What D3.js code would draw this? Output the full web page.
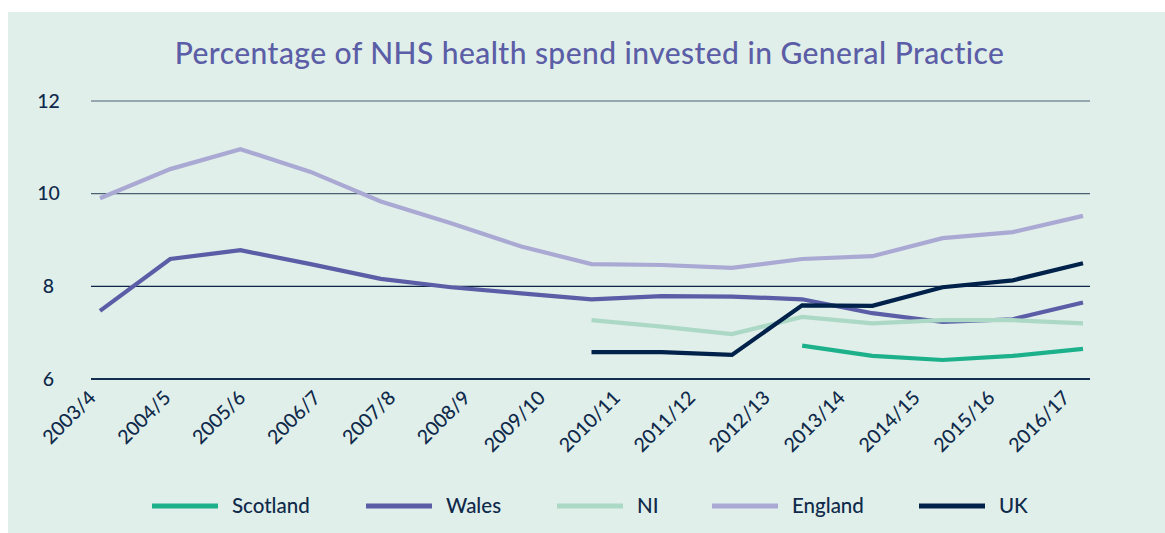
<!DOCTYPE html>
<html>
<head>
<meta charset="utf-8">
<script src="https://cdn.jsdelivr.net/npm/d3@7/dist/d3.min.js"></script>
<style>
  html, body { margin: 0; padding: 0; background: #ffffff; }
  svg { display: block; }
  text { font-family: Lato, "Open Sans", sans-serif; }
</style>
</head>
<body>
<svg id="chart" width="1165" height="533"></svg>
<script>
// ---- Data ----
const title = "Percentage of NHS health spend invested in General Practice";
const categories = ["2003/4","2004/5","2005/6","2006/7","2007/8","2008/9","2009/10",
                    "2010/11","2011/12","2012/13","2013/14","2014/15","2015/16","2016/17"];
const yTicks = [6, 8, 10, 12];
// data points (15 plotted positions)
const england  = [9.90, 10.53, 10.96, 10.47, 9.83, 9.36, 8.86, 8.48, 8.46, 8.40, 8.59, 8.65, 9.04, 9.17, 9.52];
const wales    = [7.47, 8.59, 8.78, 8.48, 8.16, 7.98, 7.85, 7.72, 7.79, 7.78, 7.72, 7.42, 7.23, 7.29, 7.65];
const ni       = [null, null, null, null, null, null, null, 7.27, 7.13, 6.97, 7.34, 7.20, 7.27, 7.27, 7.20];
const uk       = [null, null, null, null, null, null, null, 6.58, 6.58, 6.52, 7.59, 7.58, 7.98, 8.13, 8.50];
const scotland = [null, null, null, null, null, null, null, null, null, null, 6.72, 6.50, 6.41, 6.50, 6.65];

const seriesNames = ["Scotland", "Wales", "NI", "England", "UK"];
const seriesValues = [scotland, wales, ni, england, uk];
const seriesColors = ["#1db18b", "#5b5ea6", "#acd8c6", "#aaa9d4", "#00214a"];
// drawing order (back to front)
const drawOrder = ["England", "Wales", "NI", "Scotland", "UK"];

// ---- Layout ----
const svg = d3.select("#chart");
const textColor = "#0f2a4a";

svg.append("rect").attr("x", 8).attr("y", 12).attr("width", 1165 - 8).attr("height", 533 - 12)
   .attr("fill", "#e1efea");

const gridLeft = 91, gridRight = 1090;
const y = d3.scaleLinear().domain([6, 12]).range([379, 101]);
const xIdx = d3.scaleLinear().domain([0, 14]).range([100, 1083]);
const xCat = d3.scalePoint().domain(categories).range([97, 1071]);

// title
const titleEl = svg.append("text").attr("x", 589.5).attr("y", 64).attr("text-anchor", "middle")
   .attr("font-size", 30).attr("font-weight", 500).attr("fill", "#5b5ea6").text(title);
const tw = titleEl.node().getComputedTextLength();
titleEl.attr("letter-spacing", Math.max(0, (830 - tw) / title.length).toFixed(2) + "px");

// gridlines
const grid = svg.append("g");
grid.selectAll("line").data(yTicks).join("line")
  .attr("x1", gridLeft).attr("x2", gridRight)
  .attr("y1", d => y(d)).attr("y2", d => y(d))
  .attr("stroke", d => d === 6 ? "#14304f" : (d === 8 ? "#0d2546" : "#4b6275"))
  .attr("stroke-width", d => d === 6 ? 2.2 : 1.2);

// y labels
svg.append("g").selectAll("text").data(yTicks).join("text")
  .attr("x", 48.5).attr("y", d => y(d)).attr("dy", "0.35em")
  .attr("text-anchor", "middle").attr("font-size", 19.5).attr("font-weight", 500).attr("fill", textColor)
  .text(d => d);

// x labels
svg.append("g").selectAll("text").data(categories).join("text")
  .attr("transform", d => `translate(${xCat(d)},${399}) rotate(-45)`)
  .attr("text-anchor", "end").attr("font-size", 19.5).attr("font-weight", 500).attr("fill", textColor)
  .text(d => d);

// lines
const line = d3.line()
  .defined(d => d != null)
  .x((d, i) => xIdx(i))
  .y(d => y(d));

drawOrder.forEach(name => {
  const k = seriesNames.indexOf(name);
  svg.append("path")
    .datum(seriesValues[k])
    .attr("d", line)
    .attr("fill", "none")
    .attr("stroke", seriesColors[k])
    .attr("stroke-width", 4.2)
    .attr("stroke-linejoin", "miter");
});

// legend
const legend = svg.append("g");
const legendStarts = [152, 366, 557, 712, 919];
const ly = 506;
seriesNames.forEach((name, k) => {
  const lx = legendStarts[k];
  legend.append("line").attr("x1", lx).attr("x2", lx + 66).attr("y1", ly).attr("y2", ly)
    .attr("stroke", seriesColors[k]).attr("stroke-width", 5);
  legend.append("text").attr("x", lx + 80).attr("y", ly + 7)
    .attr("font-size", 20.5).attr("font-weight", 500).attr("fill", textColor).text(name);
});
</script>
</body>
</html>
